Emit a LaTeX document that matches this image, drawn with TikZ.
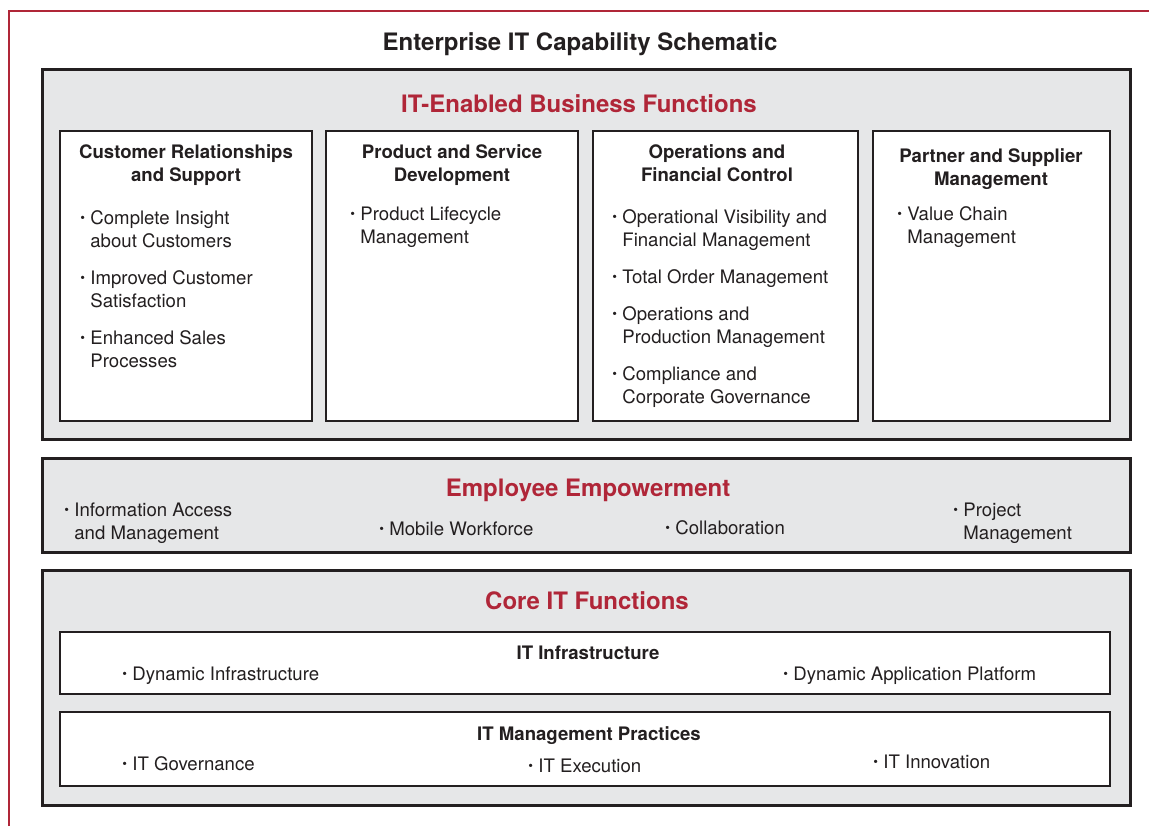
\documentclass[tikz,border=0pt]{standalone}
\usepackage{fontspec}
\setmainfont{TeX Gyre Heros}
\usepackage{tikz}
\usetikzlibrary{positioning, fit}

\definecolor{schemred}{RGB}{176,38,56}
\definecolor{schemgray}{RGB}{230,231,232}
\definecolor{schemline}{RGB}{35,31,32}
\newcommand{\bul}{\makebox[5pt][l]{\raisebox{0.18ex}{\scalebox{0.72}{\textbullet}}}}
\newcommand{\bodyfont}{\fontsize{9.3}{11.5}\selectfont}

\tikzset{
	layerbox/.style = {draw = schemline, line width = 1.5pt, fill = schemgray, inner sep = 0pt},
	funcbox/.style = {draw = schemline, line width = 1.2pt, fill = white, inner sep = 0pt},
	layertitle/.style = {anchor = base, inner sep = 0pt, text = schemred, font = \fontsize{12}{14}\selectfont\bfseries},
	heading/.style = {anchor = base, inner sep = 0pt, text = schemline, font = \bodyfont\bfseries},
	items/.style = {anchor = base west, inner sep = 0pt, text = schemline, font = \bodyfont}
}

\begin{document}
\begin{tikzpicture}[x = 0.5pt, y = -0.5pt]
	\useasboundingbox (0,0) rectangle (1149,826);
	\coordinate (frameLow) at (9,826);
	\coordinate (frameCorner) at (9,11);
	\coordinate (frameRight) at (1149,11);
	\draw[schemred, line width = 1pt] (frameLow) -- (frameCorner) -- (frameRight);

	\node[anchor = base, inner sep = 0pt, text = schemline, font = \fontsize{12}{14}\selectfont\bfseries] (title) at (580,50) {Enterprise IT Capability Schematic};

	% business functions
	\node[layerbox, fit = {(42,69) (1130,439)}] (bizfn) {};
	\node[layertitle] (bizfnTitle) at (579,112) {IT-Enabled Business Functions};
	\node[funcbox, fit = {(60,131) (312,421)}] (crm) {};
	\node[funcbox, fit = {(326,131) (578,421)}] (prod) {};
	\node[funcbox, fit = {(593,131) (858,421)}] (ops) {};
	\node[funcbox, fit = {(873,131) (1110,421)}] (partner) {};

	\node[heading] (crmHead) at (186,158) {\begin{tabular}[t]{@{}c@{}}
			Customer Relationships \\ and Support
	\end{tabular}};
	\node[items] (crmItems) at (80,224) {\begin{tabular}[t]{@{}l@{}l@{}}
			\bul & Complete Insight \\ & about Customers \\[7pt]
			\bul & Improved Customer \\ & Satisfaction \\[7pt]
			\bul & Enhanced Sales \\ & Processes
	\end{tabular}};

	\node[heading] (prodHead) at (452,158) {\begin{tabular}[t]{@{}c@{}}
			Product and Service \\ Development
	\end{tabular}};
	\node[items] (prodItems) at (350,220) {\begin{tabular}[t]{@{}l@{}l@{}}
			\bul & Product Lifecycle \\ & Management
	\end{tabular}};

	\node[heading] (opsHead) at (717,158) {\begin{tabular}[t]{@{}c@{}}
			Operations and \\ Financial Control
	\end{tabular}};
	\node[items] (opsItems) at (612,223) {\begin{tabular}[t]{@{}l@{}l@{}}
			\bul & Operational Visibility and \\ & Financial Management \\[7pt]
			\bul & Total Order Management \\[7pt]
			\bul & Operations and \\ & Production Management \\[7pt]
			\bul & Compliance and \\ & Corporate Governance
	\end{tabular}};

	\node[heading] (partnerHead) at (991,162) {\begin{tabular}[t]{@{}c@{}}
			Partner and Supplier \\ Management
	\end{tabular}};
	\node[items] (partnerItems) at (897,220) {\begin{tabular}[t]{@{}l@{}l@{}}
			\bul & Value Chain \\ & Management
	\end{tabular}};

	% employee empowerment
	\node[layerbox, fit = {(42,458) (1130,552)}] (empower) {};
	\node[layertitle] (empowerTitle) at (588,496) {Employee Empowerment};
	\node[items] (infoAccess) at (64,516) {\begin{tabular}[t]{@{}l@{}l@{}}
			\bul & Information Access \\ & and Management
	\end{tabular}};
	\node[items] (mobile) at (379,535) {\bul Mobile Workforce};
	\node[items] (collab) at (665,534) {\bul Collaboration};
	\node[items] (project) at (953,516) {\begin{tabular}[t]{@{}l@{}l@{}}
			\bul & Project \\ & Management
	\end{tabular}};

	% core IT functions
	\node[layerbox, fit = {(42,570) (1130,805)}] (coreit) {};
	\node[layertitle] (coreitTitle) at (587,609) {Core IT Functions};
	\node[funcbox, fit = {(60,632) (1110,694)}] (infra) {};
	\node[heading] (infraHead) at (588,659) {IT Infrastructure};
	\node[items] (dynInfra) at (122,680) {\bul Dynamic Infrastructure};
	\node[items] (dynApp) at (783,680) {\bul Dynamic Application Platform};
	\node[funcbox, fit = {(60,712) (1110,786)}] (mgmt) {};
	\node[heading] (mgmtHead) at (589,740) {IT Management Practices};
	\node[items] (governance) at (122,770) {\bul IT Governance};
	\node[items] (execution) at (528,772) {\bul IT Execution};
	\node[items] (innovation) at (873,768) {\bul IT Innovation};
\end{tikzpicture}
\end{document}
